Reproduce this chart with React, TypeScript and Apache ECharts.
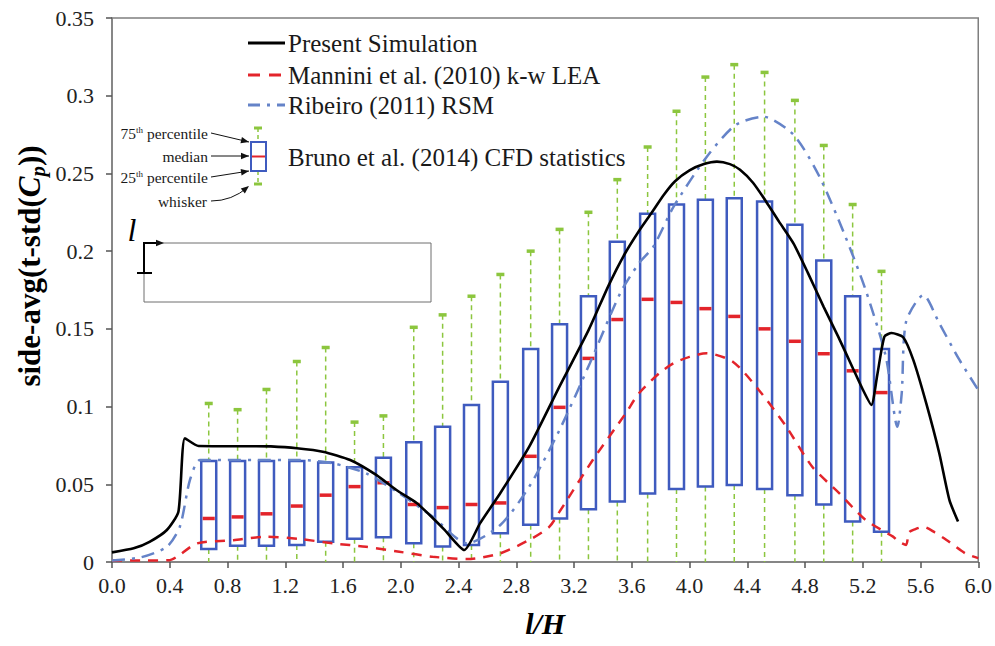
import React, { useEffect, useRef } from "react";
import * as echarts from "echarts";

// ---------- data ----------
const boxX = [0.67, 0.87, 1.07, 1.28, 1.48, 1.68, 1.88, 2.09, 2.29, 2.49, 2.69, 2.9, 3.1, 3.3, 3.5, 3.71, 3.91, 4.11, 4.31, 4.52, 4.73, 4.93, 5.13, 5.33];
const boxHigh = [0.102, 0.098, 0.111, 0.129, 0.138, 0.09, 0.094, 0.151, 0.159, 0.171, 0.185, 0.2, 0.214, 0.225, 0.246, 0.267, 0.29, 0.312, 0.32, 0.315, 0.297, 0.268, 0.23, 0.187];
const boxQ3 = [0.065, 0.065, 0.065, 0.065, 0.064, 0.061, 0.067, 0.077, 0.087, 0.101, 0.116, 0.137, 0.153, 0.171, 0.206, 0.224, 0.23, 0.233, 0.234, 0.232, 0.217, 0.194, 0.171, 0.137];
const boxMedian = [0.028, 0.029, 0.031, 0.036, 0.043, 0.0485, 0.051, 0.037, 0.035, 0.037, 0.038, 0.068, 0.0995, 0.131, 0.156, 0.169, 0.167, 0.163, 0.158, 0.15, 0.142, 0.134, 0.123, 0.109];
const boxQ1 = [0.0084, 0.0105, 0.0105, 0.011, 0.013, 0.015, 0.016, 0.012, 0.01, 0.011, 0.0185, 0.024, 0.028, 0.034, 0.039, 0.044, 0.047, 0.0485, 0.0495, 0.047, 0.043, 0.037, 0.026, 0.0195];
const boxLow = [0, 0, 0, 0, 0, 0, 0, 0, 0, 0, 0, 0, 0, 0, 0, 0, 0, 0, 0, 0, 0, 0, 0, 0];

const simX = [0, 0.15, 0.26, 0.38, 0.46, 0.505, 0.6, 0.8, 1.0, 1.1, 1.28, 1.46, 1.65, 1.83, 1.97, 2.11, 2.2, 2.3, 2.44, 2.55, 2.69, 2.89, 3.1, 3.3, 3.44, 3.55, 3.65, 3.74, 3.82, 3.9, 4.0, 4.1, 4.19, 4.28, 4.35, 4.44, 4.53, 4.62, 4.72, 4.82, 4.93, 5.03, 5.13, 5.2, 5.26, 5.3, 5.35, 5.4, 5.48, 5.55, 5.64, 5.73, 5.8, 5.86];
const simY = [0.0062, 0.0088, 0.013, 0.0206, 0.0324, 0.0796, 0.0746, 0.0745, 0.0745, 0.0744, 0.0732, 0.071, 0.0656, 0.056, 0.0463, 0.038, 0.0302, 0.021, 0.0077, 0.025, 0.0444, 0.0742, 0.113, 0.149, 0.178, 0.198, 0.213, 0.225, 0.236, 0.245, 0.252, 0.256, 0.2576, 0.256, 0.2523, 0.244, 0.232, 0.219, 0.205, 0.186, 0.164, 0.145, 0.125, 0.111, 0.101, 0.12, 0.145, 0.1473, 0.1446, 0.13, 0.102, 0.07, 0.04, 0.026];

const manX = [0, 0.2, 0.4, 0.45, 0.59, 0.84, 1.07, 1.3, 1.53, 1.76, 1.99, 2.22, 2.46, 2.69, 2.91, 3.03, 3.1, 3.33, 3.56, 3.65, 3.79, 3.89, 4.0, 4.12, 4.3, 4.48, 4.67, 4.85, 5.04, 5.22, 5.41, 5.45, 5.5, 5.52, 5.56, 5.62, 5.7, 5.78, 5.91, 6.0];
const manY = [0.001, 0.001, 0.0012, 0.0034, 0.012, 0.014, 0.0163, 0.0148, 0.012, 0.0098, 0.0066, 0.0034, 0.0019, 0.0056, 0.0152, 0.0227, 0.0324, 0.0656, 0.0959, 0.1086, 0.1214, 0.1279, 0.132, 0.1343, 0.1289, 0.1107, 0.0871, 0.0613, 0.044, 0.027, 0.0163, 0.013, 0.011, 0.019, 0.021, 0.0227, 0.019, 0.0142, 0.0056, 0.0025];

const ribX = [0, 0.2, 0.38, 0.47, 0.54, 0.61, 0.8, 1.0, 1.3, 1.53, 1.76, 1.99, 2.22, 2.46, 2.69, 2.89, 3.1, 3.31, 3.52, 3.65, 3.75, 3.89, 4.12, 4.32, 4.51, 4.72, 4.9, 5.08, 5.22, 5.36, 5.44, 5.47, 5.5, 5.62, 5.73, 5.87, 6.0];
const ribY = [0.001, 0.003, 0.0098, 0.0227, 0.0528, 0.0656, 0.0656, 0.0656, 0.0656, 0.0635, 0.057, 0.0442, 0.0292, 0.012, 0.0238, 0.0485, 0.085, 0.1279, 0.1729, 0.1922, 0.2029, 0.2286, 0.2608, 0.2812, 0.2865, 0.2749, 0.248, 0.2093, 0.175, 0.1321, 0.087, 0.1086, 0.1546, 0.1718, 0.1536, 0.13, 0.1107];

const seriesNames = ["Present Simulation", "Mannini et al. (2010) k-w LEA", "Ribeiro (2011) RSM", "Bruno et al. (2014) CFD statistics"];

// ---------- styles ----------
const FONT = "'Liberation Serif', 'Times New Roman', serif";
const BLACK = "#000000";
const RED = "#e3242b";
const BLUE_DD = "#6583c8";
const BOX_BLUE = "#3f5bbf";
const GREEN = "#8cc63e";
const AXIS = "#7f7f7f";

const zip = (xs: number[], ys: number[]) => xs.map((x, i) => [x, ys[i]]);

function arrowHead(tx: number, ty: number, fx: number, fy: number) {
  const ang = Math.atan2(ty - fy, tx - fx);
  const L = 8, W = 3.2;
  const bx = tx - L * Math.cos(ang), by = ty - L * Math.sin(ang);
  const px = -Math.sin(ang) * W, py = Math.cos(ang) * W;
  return {
    type: "polygon",
    shape: { points: [[tx, ty], [bx + px, by + py], [bx - px, by - py]] },
    style: { fill: "#111" },
  };
}

function arrowLine(x1: number, y1: number, x2: number, y2: number) {
  return [
    { type: "line", shape: { x1, y1, x2, y2 }, style: { stroke: "#111", lineWidth: 1 } },
    arrowHead(x2, y2, x1, y1),
  ];
}

export default function App() {
  const ref = useRef<HTMLDivElement>(null);
  useEffect(() => {
    if (!ref.current) return;
    const chart = echarts.init(ref.current, null, { renderer: "svg" });
    const boxData = boxX.map((x, i) => [x, boxLow[i], boxQ1[i], boxMedian[i], boxQ3[i], boxHigh[i]]);

    const legendY = [43, 75, 105];
    const legendTextStyle = { fontFamily: FONT, fontSize: 25, fill: "#1a1a1a", verticalAlign: "middle" };
    const smallText = { fontFamily: FONT, fontSize: 15.5, fill: "#1a1a1a" };
    const smallRich = {
      n: { fontFamily: FONT, fontSize: 15.5, fill: "#1a1a1a" },
      s: { fontFamily: FONT, fontSize: 9, fill: "#1a1a1a", verticalAlign: "top" },
    };

    const graphic: any[] = [
      // legend line samples
      { type: "line", shape: { x1: 248, y1: legendY[0], x2: 285, y2: legendY[0] }, style: { stroke: BLACK, lineWidth: 3 } },
      { type: "line", shape: { x1: 248, y1: legendY[1], x2: 285, y2: legendY[1] }, style: { stroke: RED, lineWidth: 3, lineDash: [12, 9] } },
      { type: "line", shape: { x1: 248, y1: legendY[2], x2: 285, y2: legendY[2] }, style: { stroke: BLUE_DD, lineWidth: 3, lineDash: [12, 7, 3, 7] } },
      { type: "text", x: 288, y: legendY[0], style: { ...legendTextStyle, text: seriesNames[0] } },
      { type: "text", x: 288, y: legendY[1], style: { ...legendTextStyle, text: seriesNames[1] } },
      { type: "text", x: 288, y: legendY[2], style: { ...legendTextStyle, text: seriesNames[2] } },
      { type: "text", x: 288, y: 157, style: { ...legendTextStyle, text: seriesNames[3] } },
      // legend box sample
      { type: "line", shape: { x1: 258, y1: 128, x2: 258, y2: 142 }, style: { stroke: GREEN, lineWidth: 1.5, lineDash: [4, 3] } },
      { type: "line", shape: { x1: 258, y1: 171, x2: 258, y2: 184 }, style: { stroke: GREEN, lineWidth: 1.5, lineDash: [4, 3] } },
      { type: "line", shape: { x1: 254, y1: 128, x2: 262, y2: 128 }, style: { stroke: GREEN, lineWidth: 3 } },
      { type: "line", shape: { x1: 254, y1: 184, x2: 262, y2: 184 }, style: { stroke: GREEN, lineWidth: 3 } },
      { type: "rect", shape: { x: 251, y: 142, width: 15, height: 29 }, style: { stroke: BOX_BLUE, fill: "none", lineWidth: 2 } },
      { type: "line", shape: { x1: 252, y1: 156.5, x2: 265, y2: 156.5 }, style: { stroke: RED, lineWidth: 2 } },
      // annotation labels
      { type: "text", x: 208, y: 133, style: { ...smallText, text: "{n|75}{s|th}{n| percentile}", align: "right", verticalAlign: "middle", rich: smallRich } },
      { type: "text", x: 208, y: 156, style: { ...smallText, text: "median", align: "right", verticalAlign: "middle" } },
      { type: "text", x: 208, y: 177, style: { ...smallText, text: "{n|25}{s|th}{n| percentile}", align: "right", verticalAlign: "middle", rich: smallRich } },
      { type: "text", x: 207, y: 201, style: { ...smallText, text: "whisker", align: "right", verticalAlign: "middle" } },
      ...arrowLine(211, 133, 249, 142),
      ...arrowLine(211, 156, 249, 156),
      ...arrowLine(211, 177, 249, 171),
      { type: "bezierCurve", shape: { x1: 211, y1: 201, cpx1: 232, cpy1: 201, x2: 248, y2: 187 }, style: { stroke: "#111", lineWidth: 1, fill: "none" } },
      arrowHead(249, 186, 238, 195),
      // inset diagram
      { type: "rect", shape: { x: 144, y: 243, width: 287, height: 59 }, style: { stroke: "#6f6f6f", fill: "none", lineWidth: 1 } },
      { type: "line", shape: { x1: 144, y1: 243, x2: 144, y2: 273 }, style: { stroke: "#000", lineWidth: 2 } },
      { type: "line", shape: { x1: 137, y1: 273, x2: 152, y2: 273 }, style: { stroke: "#000", lineWidth: 2 } },
      { type: "line", shape: { x1: 143, y1: 243, x2: 157, y2: 243 }, style: { stroke: "#000", lineWidth: 2 } },
      arrowHead(164, 243, 150, 243),
      { type: "text", x: 132, y: 230, style: { text: "l", fontFamily: FONT, fontSize: 32, fontStyle: "italic", fill: "#000", align: "center", verticalAlign: "middle" } },
      // y axis title
      { type: "text", x: 29, y: 266, rotation: Math.PI / 2,
        style: { text: "{b|side-avg(t-std(}{c|C}{p|p}{b|))}", align: "center", verticalAlign: "middle",
          rich: {
            b: { fontFamily: FONT, fontSize: 31, fontWeight: "bold", fill: "#000", lineHeight: 38, verticalAlign: "middle" },
            c: { fontFamily: FONT, fontSize: 31, fontWeight: "bold", fontStyle: "italic", fill: "#000", lineHeight: 38, verticalAlign: "middle" },
            p: { fontFamily: FONT, fontSize: 21, fontWeight: "bold", fontStyle: "italic", fill: "#000", lineHeight: 18, verticalAlign: "bottom" },
          } } },
    ];

    chart.setOption({
      animation: false,
      textStyle: { fontFamily: FONT },
      grid: { left: 112, top: 18, width: 867, height: 544, show: true, borderColor: AXIS, borderWidth: 1.5, backgroundColor: "transparent" },
      xAxis: {
        type: "value", min: 0, max: 6, interval: 0.4,
        name: "l/H", nameLocation: "middle", nameGap: 46,
        nameTextStyle: { fontFamily: FONT, fontSize: 30, fontWeight: "bold", fontStyle: "italic", color: "#000" },
        axisLine: { show: true, lineStyle: { color: AXIS, width: 1.5 } },
        axisTick: { show: true, inside: false, length: 6, lineStyle: { color: "#555", width: 1.5 } },
        axisLabel: { fontFamily: FONT, fontSize: 22, color: "#222", margin: 12, formatter: (v: number) => v.toFixed(1) },
        splitLine: { show: false },
      },
      yAxis: {
        type: "value", min: 0, max: 0.35, interval: 0.05,
        axisLine: { show: true, lineStyle: { color: AXIS, width: 1.5 } },
        axisTick: { show: true, inside: false, length: 6, lineStyle: { color: "#555", width: 1.5 } },
        axisLabel: { fontFamily: FONT, fontSize: 22, color: "#222", margin: 18 },
        splitLine: { show: false },
      },
      graphic,
      series: [
        {
          name: seriesNames[3], type: "custom", z: 2, data: boxData,
          encode: { x: 0, y: [1, 2, 3, 4, 5] },
          renderItem: (params: any, api: any) => {
            const x = api.value(0);
            const pLow = api.coord([x, api.value(1)]);
            const pQ1 = api.coord([x, api.value(2)]);
            const pMed = api.coord([x, api.value(3)]);
            const pQ3 = api.coord([x, api.value(4)]);
            const pHigh = api.coord([x, api.value(5)]);
            const cx = pQ1[0];
            const hw = 7.5;
            return {
              type: "group",
              children: [
                { type: "line", shape: { x1: cx, y1: pHigh[1], x2: cx, y2: pQ3[1] }, style: { stroke: GREEN, lineWidth: 1.5, lineDash: [5, 4] } },
                { type: "line", shape: { x1: cx, y1: pQ1[1], x2: cx, y2: pLow[1] }, style: { stroke: GREEN, lineWidth: 1.5, lineDash: [5, 4] } },
                { type: "line", shape: { x1: cx - 4, y1: pHigh[1], x2: cx + 4, y2: pHigh[1] }, style: { stroke: GREEN, lineWidth: 3.5 } },
                { type: "rect", shape: { x: cx - hw, y: pQ3[1], width: hw * 2, height: pQ1[1] - pQ3[1] }, style: { stroke: BOX_BLUE, fill: "none", lineWidth: 2.5 } },
                { type: "line", shape: { x1: cx - hw + 1.5, y1: pMed[1], x2: cx + hw - 1.5, y2: pMed[1] }, style: { stroke: RED, lineWidth: 3.5 } },
              ],
            };
          },
        },
        { name: seriesNames[1], type: "line", z: 3, data: zip(manX, manY), showSymbol: false, smooth: 0.25,
          lineStyle: { color: RED, width: 2.5, type: [10, 8] } },
        { name: seriesNames[2], type: "line", z: 3, data: zip(ribX, ribY), showSymbol: false, smooth: 0.25,
          lineStyle: { color: BLUE_DD, width: 2.5, type: [13, 7, 3, 7] } },
        { name: seriesNames[0], type: "line", z: 4, data: zip(simX, simY), showSymbol: false, smooth: 0.2,
          lineStyle: { color: BLACK, width: 2.6 } },
      ],
    });
    return () => chart.dispose();
  }, []);
  return <div ref={ref} style={{ position: "absolute", left: 0, top: 0, width: 995, height: 646, background: "#fff" }} />;
}
